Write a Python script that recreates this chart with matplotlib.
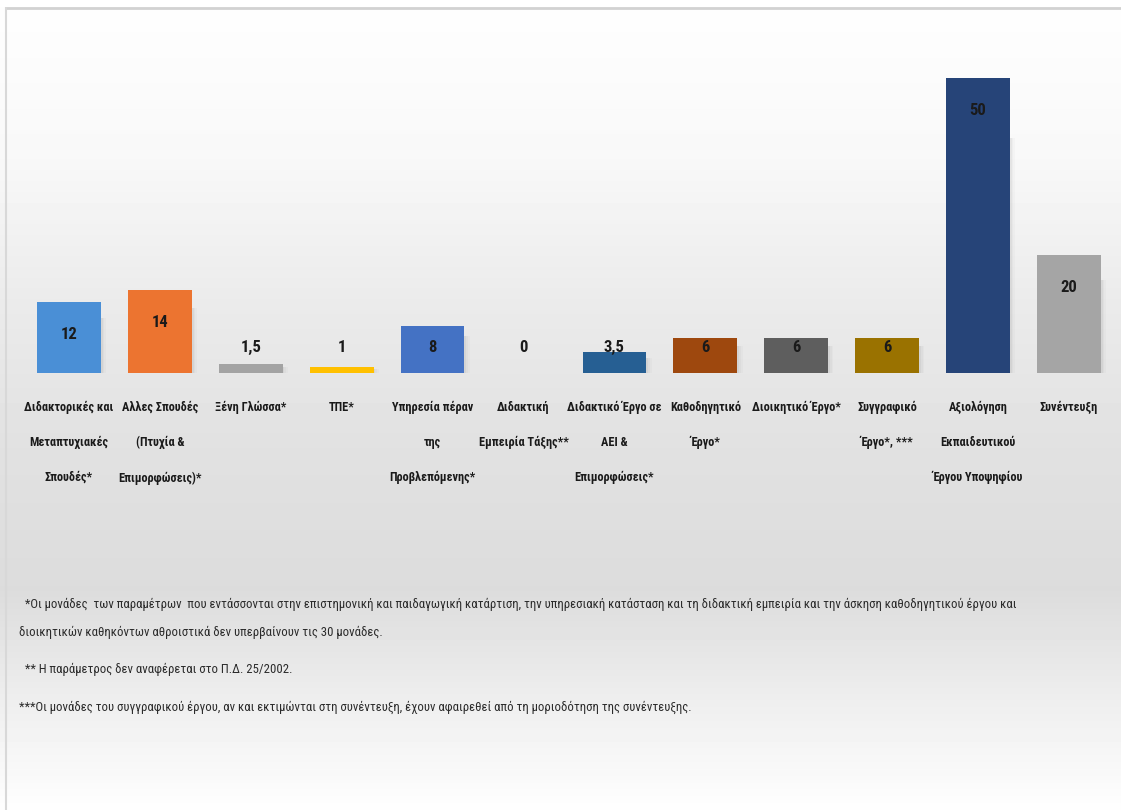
import numpy as np
import matplotlib
matplotlib.use("Agg")
import matplotlib.pyplot as plt
from matplotlib import font_manager as fm

# ---------------- data ----------------
categories = [
    "Διδακτορικές και\nΜεταπτυχιακές\nΣπουδές*",
    "Αλλες Σπουδές\n(Πτυχία &\nΕπιμορφώσεις)*",
    "Ξένη Γλώσσα*",
    "ΤΠΕ*",
    "Υπηρεσία πέραν\nτης\nΠροβλεπόμενης*",
    "Διδακτική\nΕμπειρία Τάξης**",
    "Διδακτικό Έργο σε\nΑΕΙ &\nΕπιμορφώσεις*",
    "Καθοδηγητικό\nΈργο*",
    "Διοικητικό Έργο*",
    "Συγγραφικό\nΈργο*, ***",
    "Αξιολόγηση\nΕκπαιδευτικού\nΈργου Υποψηφίου",
    "Συνέντευξη",
]
values = [12, 14, 1.5, 1, 8, 0, 3.5, 6, 6, 6, 50, 20]
value_labels = ["12", "14", "1,5", "1", "8", "0", "3,5", "6", "6", "6", "50", "20"]
colors = ["#4a8fd6", "#ec7430", "#a3a3a3", "#ffc000", "#4472c4", "#ffffff",
          "#265f93", "#9e480e", "#5e5e5e", "#9a7200", "#264478", "#a5a5a5"]

footnotes = [
    " *Οι μονάδες  των παραμέτρων  που εντάσσονται στην επιστημονική και παιδαγωγική κατάρτιση, την υπηρεσιακή κατάσταση και τη διδακτική εμπειρία και την άσκηση καθοδηγητικού έργου και",
    "διοικητικών καθηκόντων αθροιστικά δεν υπερβαίνουν τις 30 μονάδες.",
    " ** Η παράμετρος δεν αναφέρεται στο Π.Δ. 25/2002.",
    "***Οι μονάδες του συγγραφικού έργου, αν και εκτιμώνται στη συνέντευξη, έχουν αφαιρεθεί από τη μοριοδότηση της συνέντευξης.",
]

# ---------------- fonts ----------------
def pick(names):
    for n in names:
        try:
            fm.findfont(fm.FontProperties(family=n), fallback_to_default=False)
            return n
        except Exception:
            pass
    return "DejaVu Sans"

FONT = pick(["Liberation Sans Narrow", "Roboto Condensed", "Open Sans Condensed",
             "Liberation Sans", "DejaVu Sans"])
plt.rcParams["font.family"] = [FONT, "DejaVu Sans"]

W, H = 1121, 810
fig = plt.figure(figsize=(W / 100, H / 100), dpi=100)

# ---------------- background gradient ----------------
bg = fig.add_axes([0, 0, 1, 1], zorder=0)
bg.set_axis_off()
ys = np.array([0, 7, 160, 300, 450, 590, 700, 810])
gs = np.array([255, 254, 248, 235, 225, 220, 238, 254]) / 255.0
yy = np.arange(H) + 0.5
g = np.interp(yy, ys, gs)
img = g[:, None]
bg.imshow(img, cmap="gray", vmin=0, vmax=1, aspect="auto",
          extent=[0, W, H, 0], interpolation="nearest")
bg.set_xlim(0, W)
bg.set_ylim(H, 0)
# frame lines (top & left)
bg.plot([5, W], [7.5, 7.5], color="#d2d2d2", lw=2, solid_capstyle="butt")
bg.plot([5.5, 5.5], [7, H], color="#d8d8d8", lw=1.5, solid_capstyle="butt")

# ---------------- bar axes ----------------
px_per_unit = 90.9
left_px = 69 - px_per_unit / 2
base_px = 373
ymax = 52
unit_px = 5.9
ax = fig.add_axes([left_px / W, (H - base_px) / H,
                   px_per_unit * 12 / W, ymax * unit_px / H], zorder=1)
ax.set_xlim(-0.5, 11.5)
ax.set_ylim(0, ymax)
ax.set_axis_off()
ax.patch.set_alpha(0)

x = np.arange(len(values))
# soft shadow
for i, v in enumerate(values):
    if v <= 0:
        continue
    for k, a in enumerate([0.035, 0.025, 0.02]):
        off = 0.02 + 0.02 * k
        ax.bar(x[i] + off, v * 0.8, width=0.70, bottom=-0.2,
               color="black", alpha=a, linewidth=0, zorder=1)
bars = ax.bar(x, values, width=0.70, color=colors, linewidth=0, zorder=2)

for i, (v, lab) in enumerate(zip(values, value_labels)):
    ly = max(v - 5.5, 4.4)
    ax.text(x[i], ly, lab, ha="center", va="center", fontsize=12,
            fontweight="bold", color="#1a1a1a", zorder=3)

for i, c in enumerate(categories):
    ax.text(x[i], -(401 - base_px) / unit_px, c, ha="center", va="top",
            fontsize=8.8, fontweight="bold", color="#1a1a1a",
            linespacing=3.15, clip_on=False)

# ---------------- footnotes ----------------
foot_y = [604, 632, 669, 707]
foot_x = [22, 19, 22, 19]
for fx, fy, t in zip(foot_x, foot_y, footnotes):
    bg.text(fx, fy, t, ha="left", va="center", fontsize=9.2,
            color="#2b2b2b")

fig.savefig("out.png", dpi=100)
